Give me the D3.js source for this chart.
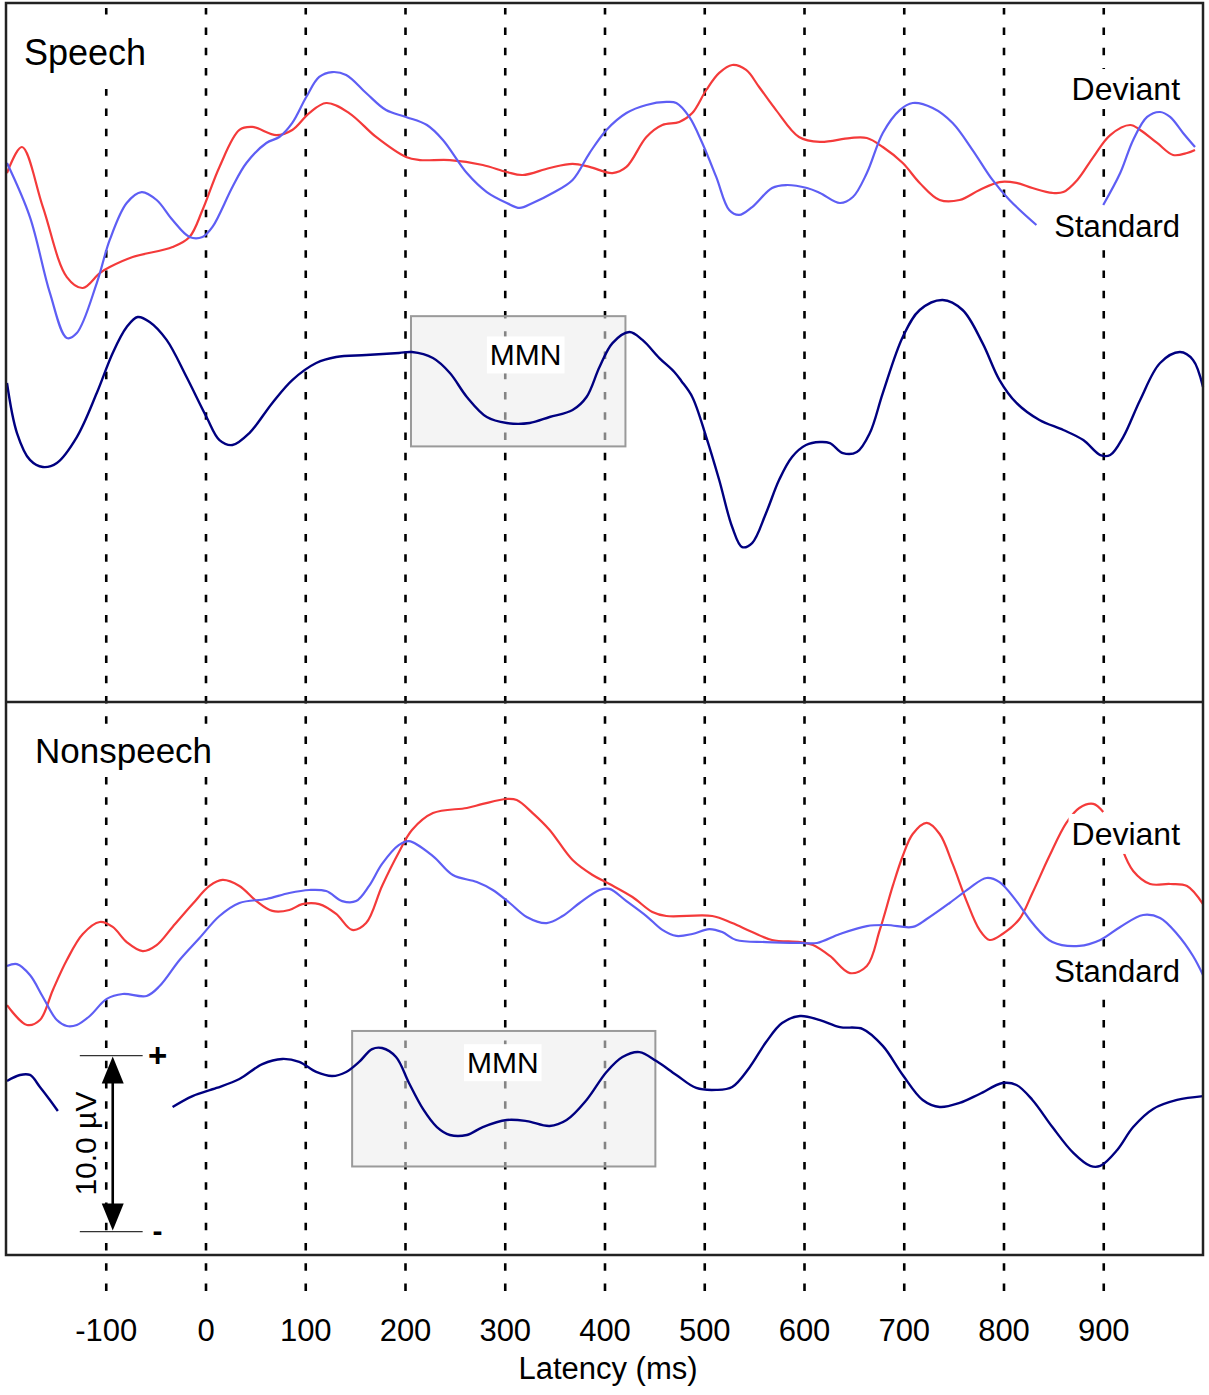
<!DOCTYPE html>
<html>
<head>
<meta charset="utf-8">
<script src="https://cdn.jsdelivr.net/npm/d3@7"></script>
<style>
  body { margin: 0; background: #fff; }
  svg { display: block; }
  text { font-family: "Liberation Sans", Arial, sans-serif; fill: #000; }
</style>
</head>
<body>
<svg id="chart" width="1209" height="1395"></svg>
<script>
// latency ticks (ms)
const xTicks = [-100, 0, 100, 200, 300, 400, 500, 600, 700, 800, 900];

// [latency ms, amplitude µV] – null marks a break in the trace
const speechDeviant = [
  [-199, 1.53], [-184, 3.01], [-163, -0.40], [-139, -4.38], [-123, -5.00], [-106, -4.15], [-96, -3.81],
  [-73, -3.24], [-33, -2.67], [-16, -2.10], [-3, -0.57], [14, 1.88], [34, 3.98], [47, 4.15], [71, 3.69],
  [87, 3.98], [104, 4.94], [121, 5.51], [144, 4.94], [171, 3.58], [201, 2.44], [215, 2.27], [245, 2.27],
  [278, 1.99], [302, 1.59], [318, 1.42], [345, 1.82], [368, 2.05], [385, 1.88], [408, 1.53], [422, 1.88],
  [442, 3.58], [458, 4.26], [475, 4.43], [488, 4.94], [502, 6.25], [515, 7.22], [528, 7.67], [542, 7.39],
  [555, 6.42], [572, 5.11], [595, 3.58], [616, 3.30], [646, 3.52], [663, 3.52], [679, 3.01], [699, 2.10],
  [716, 0.97], [736, 0], [756, 0], [776, 0.57], [796, 1.02], [813, 0.97], [829, 0.68], [849, 0.40],
  [860, 0.45], [874, 1.14], [890, 2.44], [907, 3.69], [927, 4.26], [937, 3.98], [954, 3.24], [970, 2.56],
  [984, 2.67], [992, 2.84]
];
const speechStandard = [
  [-199, 2.10], [-176, -0.97], [-156, -5.28], [-139, -7.84], [-129, -7.56], [-109, -4.72], [-96, -2.27],
  [-79, -0.17], [-64, 0.45], [-49, 0], [-33, -1.14], [-16, -2.10], [-3, -2.10], [7, -1.53], [27, 0.74],
  [41, 2.10], [61, 3.24], [74, 3.58], [87, 4.38], [101, 5.85], [114, 6.99], [127, 7.27], [141, 7.10],
  [161, 6.08], [181, 5.11], [201, 4.72], [222, 4.26], [238, 3.41], [262, 1.53], [282, 0.45], [302, -0.17],
  [315, -0.45], [328, -0.17], [348, 0.40], [368, 1.14], [385, 2.67], [402, 3.98], [422, 4.94], [442, 5.40],
  [462, 5.57], [472, 5.51], [485, 4.72], [498, 3.24], [512, 1.31], [525, -0.57], [535, -0.85], [548, -0.40],
  [568, 0.68], [582, 0.85], [603, 0.68], [616, 0.40], [636, -0.17], [649, 0.17], [663, 1.53], [679, 3.81],
  [696, 5.11], [709, 5.51], [729, 5.23], [749, 4.38], [769, 2.84], [789, 1.14], [806, 0], [833, -1.42],
  [866, null],
  [900, -0.28], [917, 1.53], [930, 3.41], [944, 4.72], [957, 5.00], [967, 4.72], [980, 3.81], [992, 3.01]
];
const speechDifference = [
  [-199, -10.40], [-189, -13.24], [-176, -14.77], [-163, -15.17], [-149, -14.94], [-129, -13.47], [-109, -10.97],
  [-93, -8.69], [-79, -7.22], [-68, -6.65], [-56, -6.93], [-39, -7.95], [-19, -10.06], [1, -12.33], [14, -13.64],
  [27, -13.92], [44, -13.24], [67, -11.53], [87, -10.23], [111, -9.26], [131, -8.92], [161, -8.81], [194, -8.69],
  [207, -8.64], [228, -8.98], [245, -9.83], [262, -11.19], [282, -12.33], [302, -12.67], [325, -12.67],
  [345, -12.33], [368, -11.93], [382, -11.19], [395, -9.49], [408, -8.13], [425, -7.50], [438, -7.95],
  [455, -8.98], [470, -9.77], [477, -10.28], [488, -11.19], [502, -13.47], [515, -15.91], [528, -18.58],
  [538, -19.72], [548, -19.49], [562, -17.78], [575, -15.91], [588, -14.60], [602, -13.92], [616, -13.75],
  [626, -13.81], [639, -14.38], [653, -14.32], [666, -13.24], [679, -10.97], [699, -7.78], [716, -6.25],
  [739, -5.68], [759, -6.25], [779, -8.13], [796, -10.23], [813, -11.53], [836, -12.50], [860, -13.07],
  [880, -13.64], [897, -14.49], [907, -14.49], [920, -13.47], [937, -11.36], [957, -9.26], [977, -8.64],
  [990, -9.09], [1000, -10.63]
];

const nonspeechDeviant = [
  [-199, -3.13], [-179, -4.26], [-166, -3.98], [-153, -2.27], [-139, -0.57], [-123, 0.91], [-106, 1.59],
  [-93, 1.31], [-79, 0.45], [-63, -0.06], [-49, 0.28], [-33, 1.31], [-13, 2.61], [4, 3.64], [17, 3.98],
  [34, 3.64], [51, 2.78], [67, 2.22], [84, 2.27], [97, 2.61], [114, 2.61], [131, 2.05], [147, 1.14],
  [161, 1.53], [177, 3.64], [194, 5.57], [207, 6.82], [228, 7.78], [262, 8.07], [278, 8.30], [302, 8.58],
  [312, 8.52], [328, 7.78], [345, 6.82], [368, 5.11], [388, 4.26], [405, 3.75], [428, 3.01], [448, 2.16],
  [462, 1.93], [508, 1.93], [528, 1.53], [548, 1.02], [568, 0.57], [596, 0.45], [609, 0.28], [626, -0.34],
  [646, -1.31], [663, -0.91], [676, 1.14], [689, 3.64], [699, 5.34], [709, 6.59], [723, 7.22], [736, 6.59],
  [749, 4.89], [763, 2.78], [776, 1.14], [786, 0.57], [799, 0.91], [816, 1.76], [829, 3.24], [846, 5.34],
  [863, 7.22], [876, 8.07], [890, 8.30], [900, 7.84],
  [910, null],
  [919, 5.74], [930, 4.49], [947, 3.75], [967, 3.75], [984, 3.64], [1000, 2.61]
];
const nonspeechStandard = [
  [-199, -0.91], [-189, -0.80], [-176, -1.42], [-163, -2.67], [-149, -3.98], [-139, -4.32], [-129, -4.26],
  [-116, -3.75], [-99, -2.78], [-83, -2.50], [-59, -2.61], [-46, -2.05], [-26, -0.57], [-6, 0.68], [14, 1.93],
  [34, 2.67], [61, 2.90], [84, 3.24], [104, 3.41], [121, 3.35], [137, 2.78], [151, 2.78], [164, 3.64],
  [177, 4.89], [194, 5.97], [204, 6.19], [228, 5.34], [248, 4.26], [272, 3.86], [288, 3.41], [305, 2.67],
  [322, 1.88], [342, 1.53], [358, 1.93], [375, 2.67], [395, 3.41], [405, 3.47], [422, 2.78], [442, 1.93],
  [458, 1.14], [472, 0.80], [488, 0.91], [505, 1.19], [518, 1.02], [532, 0.57], [562, 0.45], [596, 0.40],
  [613, 0.40], [636, 0.91], [663, 1.36], [683, 1.42], [709, 1.31], [723, 1.76], [746, 2.67], [766, 3.52],
  [783, 4.09], [796, 3.86], [813, 2.78], [829, 1.53], [849, 0.45], [876, 0.23], [897, 0.57], [917, 1.31],
  [940, 1.99], [957, 1.82], [974, 0.91], [990, -0.34], [1000, -1.42]
];
const nonspeechDifference = [
  [-199, -7.44], [-186, -7.10], [-176, -7.10], [-166, -7.78], [-156, -8.52], [-148, -9.15],
  [-90, null],
  [-33, -8.92], [-13, -8.30], [11, -7.84], [34, -7.33], [57, -6.48], [77, -6.19], [94, -6.36], [111, -6.93],
  [127, -7.16], [141, -6.93], [154, -6.36], [167, -5.63], [177, -5.57], [191, -6.08], [204, -7.56],
  [218, -9.03], [232, -10.06], [245, -10.51], [262, -10.51], [278, -10.06], [302, -9.66], [322, -9.72],
  [345, -10.00], [362, -9.66], [382, -8.52], [402, -6.93], [418, -6.08], [435, -5.80], [452, -6.31],
  [472, -7.10], [492, -7.84], [512, -7.95], [528, -7.78], [545, -6.70], [562, -5.23], [578, -4.15],
  [596, -3.75], [616, -3.98], [636, -4.38], [659, -4.49], [679, -5.45], [699, -7.10], [719, -8.52],
  [736, -8.92], [756, -8.69], [776, -8.18], [799, -7.56], [813, -7.67], [829, -8.52], [849, -10.06],
  [870, -11.53], [887, -12.27], [897, -12.27], [914, -11.36], [930, -10.06], [950, -9.03], [974, -8.52],
  [1000, -8.30]
];

// MMN analysis windows: [start ms, end ms, upper µV, lower µV]
const speechMMN = [206, 421, -6.6, -14.0];
const nonspeechMMN = [147, 451, -4.6, -12.3];
// calibration bar: [ms, upper µV, lower µV]
const calibration = [-93, -6, -16];

const colors = { deviant: "#f43a3a", standard: "#5e5ef4", difference: "#000080" };

const svg = d3.select("#chart");
svg.append("rect").attr("width", 1209).attr("height", 1395).attr("fill", "#fff");

const x = d3.scaleLinear().domain([-200, 1000]).range([6, 1203]);
const frame = { top: 3, mid: 702, bottom: 1255 };
const axisY = 1296;

// dashed latency grid + tick labels
const axis = d3.axisBottom(x)
  .tickValues(xTicks)
  .tickFormat((d) => String(d))
  .tickSizeInner(-(axisY - 8))
  .tickSizeOuter(0)
  .tickPadding(23);
const gAxis = svg.append("g").attr("transform", `translate(0,${axisY})`).call(axis);
gAxis.select(".domain").remove();
gAxis.selectAll(".tick line")
  .attr("stroke", "#000")
  .attr("stroke-width", 2.6)
  .attr("stroke-dasharray", "7.5,12.76")
  .attr("stroke-dashoffset", 15.26);
gAxis.selectAll(".tick text")
  .attr("font-size", 31)
  .attr("font-family", "Liberation Sans, Arial, sans-serif")
  .attr("fill", "#000");

svg.append("text")
  .attr("x", 608).attr("y", 1379)
  .attr("text-anchor", "middle")
  .attr("font-size", 31)
  .text("Latency (ms)");

const panels = [
  {
    title: "Speech", titleX: 24, titleY: 65, titleSize: 36, titlePad: [14, 16],
    y: d3.scaleLinear().domain([0, 10]).range([200, 24]),
    dev: speechDeviant, std: speechStandard, diff: speechDifference, mmn: speechMMN,
    mmnLabel: [321, -9.4], devLabel: 5.68, stdLabel: -2.1
  },
  {
    title: "Nonspeech", titleX: 35, titleY: 763, titleSize: 35, titlePad: [3, 3],
    y: d3.scaleLinear().domain([0, 10]).range([950, 774]),
    dev: nonspeechDeviant, std: nonspeechStandard, diff: nonspeechDifference, mmn: nonspeechMMN,
    mmnLabel: [298, -7.0], devLabel: 5.97, stdLabel: -1.82
  }
];

function labelWithBg(g, xPos, yPos, str, size, anchor, pad) {
  const bg = g.append("rect").attr("fill", "#fff");
  const t = g.append("text")
    .attr("x", xPos).attr("y", yPos)
    .attr("text-anchor", anchor)
    .attr("font-size", size)
    .text(str);
  const b = t.node().getBBox();
  bg.attr("x", b.x - pad[0]).attr("y", b.y - pad[1])
    .attr("width", b.width + 2 * pad[0]).attr("height", b.height + 2 * pad[1]);
  return t;
}

panels.forEach((p) => {
  const g = svg.append("g");
  const line = d3.line()
    .defined((d) => d[1] != null)
    .x((d) => x(d[0]))
    .y((d) => p.y(d[1]))
    .curve(d3.curveCatmullRom.alpha(0.5));

  labelWithBg(g, p.titleX, p.titleY, p.title, p.titleSize, "start", p.titlePad);

  // MMN window box
  const [t0, t1, vTop, vBot] = p.mmn;
  g.append("rect")
    .attr("x", x(t0)).attr("y", p.y(vTop))
    .attr("width", x(t1) - x(t0)).attr("height", p.y(vBot) - p.y(vTop))
    .attr("fill", "rgb(235,235,235)").attr("fill-opacity", 0.56)
    .attr("stroke", "#9a9a9a").attr("stroke-width", 2);

  [["dev", colors.deviant, 2.2], ["std", colors.standard, 2.2], ["diff", colors.difference, 2.4]]
    .forEach(([k, c, w]) => {
      g.append("path")
        .datum(p[k])
        .attr("d", line)
        .attr("fill", "none")
        .attr("stroke", c)
        .attr("stroke-width", w)
        .attr("stroke-linejoin", "round");
    });

  labelWithBg(g, x(p.mmnLabel[0]), p.y(p.mmnLabel[1]), "MMN", 30, "middle", [3, 2]);
  labelWithBg(g, x(977), p.y(p.devLabel), "Deviant", 32, "end", [3, 2]);
  labelWithBg(g, x(977), p.y(p.stdLabel), "Standard", 31, "end", [3, 2]);
});

// calibration bar (10 µV) in the Nonspeech panel
const yCal = panels[1].y;
const [calT, calV0, calV1] = calibration;
const gc = svg.append("g");
[calV0, calV1].forEach((v) => {
  gc.append("line")
    .attr("x1", x(-126)).attr("x2", x(-63))
    .attr("y1", yCal(v)).attr("y2", yCal(v))
    .attr("stroke", "#333").attr("stroke-width", 1.3);
});
const cx = x(calT), cy0 = yCal(calV0), cy1 = yCal(calV1);
gc.append("line")
  .attr("x1", cx).attr("x2", cx)
  .attr("y1", cy0 + 20).attr("y2", cy1 - 20)
  .attr("stroke", "#000").attr("stroke-width", 2.6);
gc.append("path")
  .attr("d", `M${cx},${cy0 + 1}L${cx - 11},${cy0 + 28}L${cx + 11},${cy0 + 28}Z`)
  .attr("fill", "#000");
gc.append("path")
  .attr("d", `M${cx},${cy1 - 1}L${cx - 11},${cy1 - 28}L${cx + 11},${cy1 - 28}Z`)
  .attr("fill", "#000");
gc.append("text").attr("x", x(-48)).attr("y", cy0 + 11)
  .attr("text-anchor", "middle").attr("font-size", 33).attr("font-weight", "bold").text("+");
gc.append("text").attr("x", x(-48)).attr("y", cy1 + 9)
  .attr("text-anchor", "middle").attr("font-size", 30).attr("font-weight", "bold").text("-");
gc.append("text")
  .attr("transform", `translate(96,${(cy0 + cy1) / 2}) rotate(-90)`)
  .attr("text-anchor", "middle")
  .attr("font-size", 30)
  .text("10.0 \u00b5V");

// panel frame
svg.append("rect")
  .attr("x", x(-200)).attr("y", frame.top)
  .attr("width", x(1000) - x(-200)).attr("height", frame.bottom - frame.top)
  .attr("fill", "none").attr("stroke", "#222").attr("stroke-width", 2.5);
svg.append("line")
  .attr("x1", x(-200)).attr("x2", x(1000))
  .attr("y1", frame.mid).attr("y2", frame.mid)
  .attr("stroke", "#222").attr("stroke-width", 2.5);
</script>
</body>
</html>
